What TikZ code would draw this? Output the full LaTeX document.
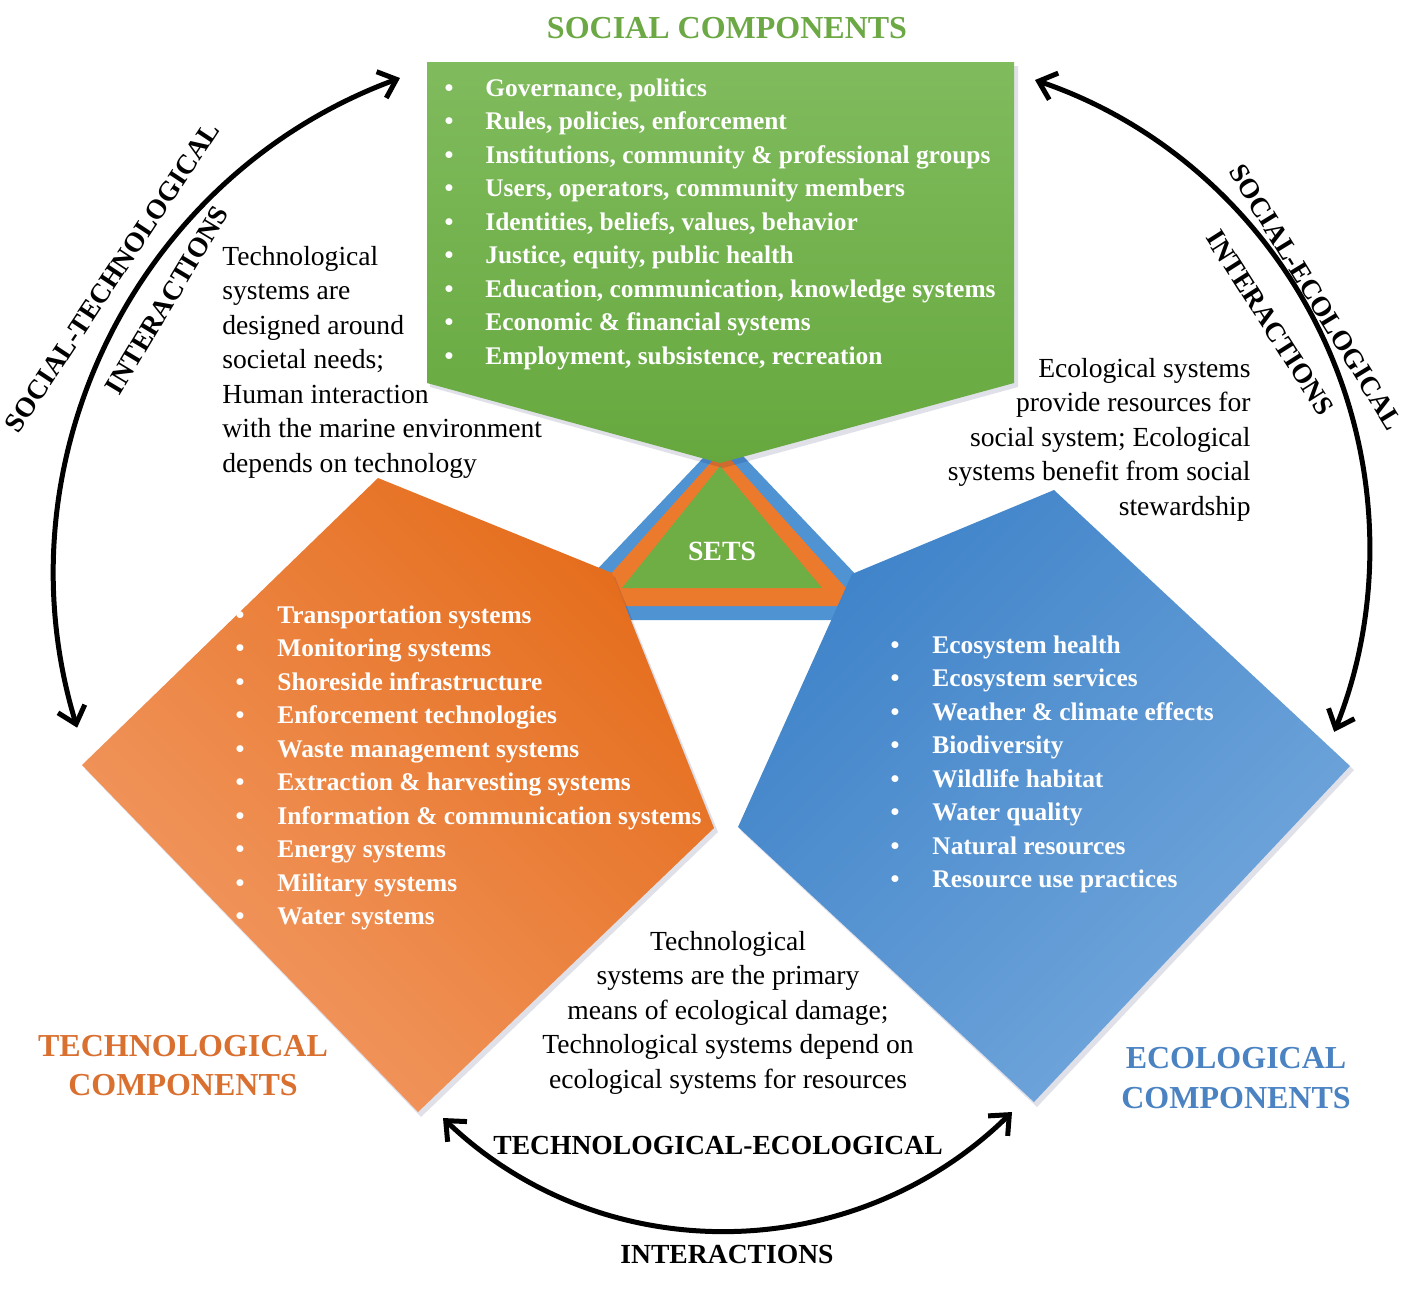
\documentclass[tikz,border=0pt]{standalone}
\usepackage{fontspec}
\setmainfont{Liberation Serif}
\usetikzlibrary{arrows.meta}
\definecolor{grnTop}{HTML}{80BB5D}
\definecolor{grnBot}{HTML}{66A83E}
\definecolor{orDark}{HTML}{E56D1C}
\definecolor{orLight}{HTML}{F29A65}
\definecolor{blDark}{HTML}{3F83C9}
\definecolor{blLight}{HTML}{74A8DC}
\definecolor{triBlue}{HTML}{4F93D3}
\definecolor{triOrange}{HTML}{EC7A2C}
\definecolor{triGreen}{HTML}{6FAD45}
\definecolor{headGreen}{HTML}{6CA844}
\definecolor{headOrange}{HTML}{DA7030}
\definecolor{headBlue}{HTML}{4A82C2}
\begin{document}
\begin{tikzpicture}[x=0.5pt,y=-0.5pt,
  listtxt/.style={anchor=base west, inner sep=0pt, text=white, font=\fontsize{12.7}{15}\selectfont\bfseries},
  bul/.style={anchor=base, inner sep=0pt, text=white, font=\fontsize{12.7}{15}\selectfont\bfseries},
  desc/.style={inner sep=0pt, font=\fontsize{13.8}{17}\selectfont},
  head/.style={anchor=base, inner sep=0pt, font=\fontsize{16}{19}\selectfont\bfseries},
  arclbl/.style={inner sep=0pt, font=\fontsize{13.8}{17}\selectfont\bfseries},
  interarrow/.style={line width=2.5pt, {Straight Barb[length=8pt,width=14pt]}-{Straight Barb[length=8pt,width=14pt]}},
  softshadow/.style={fill=black!70!blue, opacity=0.12},
]
\useasboundingbox (0,0) rectangle (1417,1292);

% central SETS triangle (layered)
\fill[triBlue] (724,436) -- (549,620) -- (899,620) -- cycle;
\fill[triOrange] (722,450) -- (582,606) -- (862,606) -- cycle;
\fill[triGreen] (720,466) -- (622,588) -- (822,588) -- cycle;
\node[anchor=base, inner sep=0pt, text=white, font=\fontsize{13.9}{16}\selectfont\bfseries] (sets) at (722,560) {SETS};

% soft shadows of the component shapes
\fill[softshadow] (381,482) -- (615,577) -- (718,832) -- (421,1117) -- (85,769) -- cycle;
\fill[softshadow] (1057,494) -- (1354,770) -- (1037,1107) -- (741,831) -- (855,578) -- cycle;
\fill[softshadow] (430,66) -- (1018,66) -- (1018,387) -- (723,468) -- (430,387) -- cycle;

% technological pentagon
\shade[top color=orDark, bottom color=orLight, shading angle=-45]
  (378,478) -- (612,573) -- (714,828) -- (418,1112) -- (82,765) -- cycle;
% ecological pentagon
\shade[top color=blDark, bottom color=blLight, shading angle=45]
  (1054,490) -- (1350,766) -- (1034,1102) -- (738,827) -- (852,574) -- cycle;
% social pentagon
\shade[top color=grnTop, bottom color=grnBot]
  (427,62) -- (1014,62) -- (1014,383) -- (720,463) -- (427,383) -- cycle;

% headings
\node[head, text=headGreen] (hsoc) at (727,38) {SOCIAL COMPONENTS};
\node[head, text=headOrange] (htec1) at (183,1056) {TECHNOLOGICAL};
\node[head, text=headOrange] (htec2) at (183,1095) {COMPONENTS};
\node[head, text=headBlue] (heco1) at (1236,1068) {ECOLOGICAL};
\node[head, text=headBlue] (heco2) at (1236,1108) {COMPONENTS};

% social list
\foreach \t [count=\i from 0] in {{Governance, politics},{Rules, policies, enforcement},{Institutions, community \& professional groups},{Users, operators, community members},{Identities, beliefs, values, behavior},{Justice, equity, public health},{Education, communication, knowledge systems},{Economic \& financial systems},{Employment, subsistence, recreation}}{
  \node[bul] (sb\i) at (449,{96+33.5*\i}) {\textbullet};
  \node[listtxt] (sl\i) at (485,{96+33.5*\i}) {\t};
}
% technological list
\foreach \t [count=\i from 0] in {{Transportation systems},{Monitoring systems},{Shoreside infrastructure},{Enforcement technologies},{Waste management systems},{Extraction \& harvesting systems},{Information \& communication systems},{Energy systems},{Military systems},{Water systems}}{
  \node[bul] (tb\i) at (240,{623+33.5*\i}) {\textbullet};
  \node[listtxt] (tl\i) at (277,{623+33.5*\i}) {\t};
}
% ecological list
\foreach \t [count=\i from 0] in {{Ecosystem health},{Ecosystem services},{Weather \& climate effects},{Biodiversity},{Wildlife habitat},{Water quality},{Natural resources},{Resource use practices}}{
  \node[bul] (eb\i) at (895,{653+33.5*\i}) {\textbullet};
  \node[listtxt] (el\i) at (932,{653+33.5*\i}) {\t};
}

% interaction descriptions
\foreach \t [count=\i from 0] in {{Technological},{systems are},{designed around},{societal needs;},{Human interaction},{with the marine environment},{depends on technology}}{
  \node[desc, anchor=base west] (dst\i) at (222,{265+34.5*\i}) {\t};
}
\foreach \t [count=\i from 0] in {{Ecological systems},{provide resources for},{social system; Ecological},{systems benefit from social},{stewardship}}{
  \node[desc, anchor=base east] (dse\i) at (1251,{377+34.5*\i}) {\t};
}
\foreach \t [count=\i from 0] in {{Technological},{systems are the primary},{means of ecological damage;},{Technological systems depend on},{ecological systems for resources}}{
  \node[desc, anchor=base] (dte\i) at (728,{950+34.5*\i}) {\t};
}

% arc labels
\node[arclbl, rotate=56.5] (lst1) at (112,277) {SOCIAL-TECHNOLOGICAL};
\node[arclbl, rotate=59] (lst2) at (167,300) {INTERACTIONS};
\node[arclbl, rotate=-58.5] (lse1) at (1316,297) {SOCIAL-ECOLOGICAL};
\node[arclbl, rotate=-57.5] (lse2) at (1270,323) {INTERACTIONS};
\node[arclbl, anchor=base] (lte1) at (718,1154) {TECHNOLOGICAL-ECOLOGICAL};
\node[arclbl, anchor=base] (lte2) at (727,1263) {INTERACTIONS};

% interaction arrows
\coordinate (stA) at (400,78);
\coordinate (seA) at (1035,80);
\coordinate (teA) at (443,1118);
\coordinate (teB) at (1012,1112);
\draw[interarrow] (stA) arc[start angle=110.25, end angle=196.9, radius=264.35pt];
\draw[interarrow] (seA) arc[start angle=71.2, end angle=-21.9, radius=247pt];
\draw[interarrow] (teA) .. controls (603,1271) and (854,1267) .. (teB);
\end{tikzpicture}
\end{document}
